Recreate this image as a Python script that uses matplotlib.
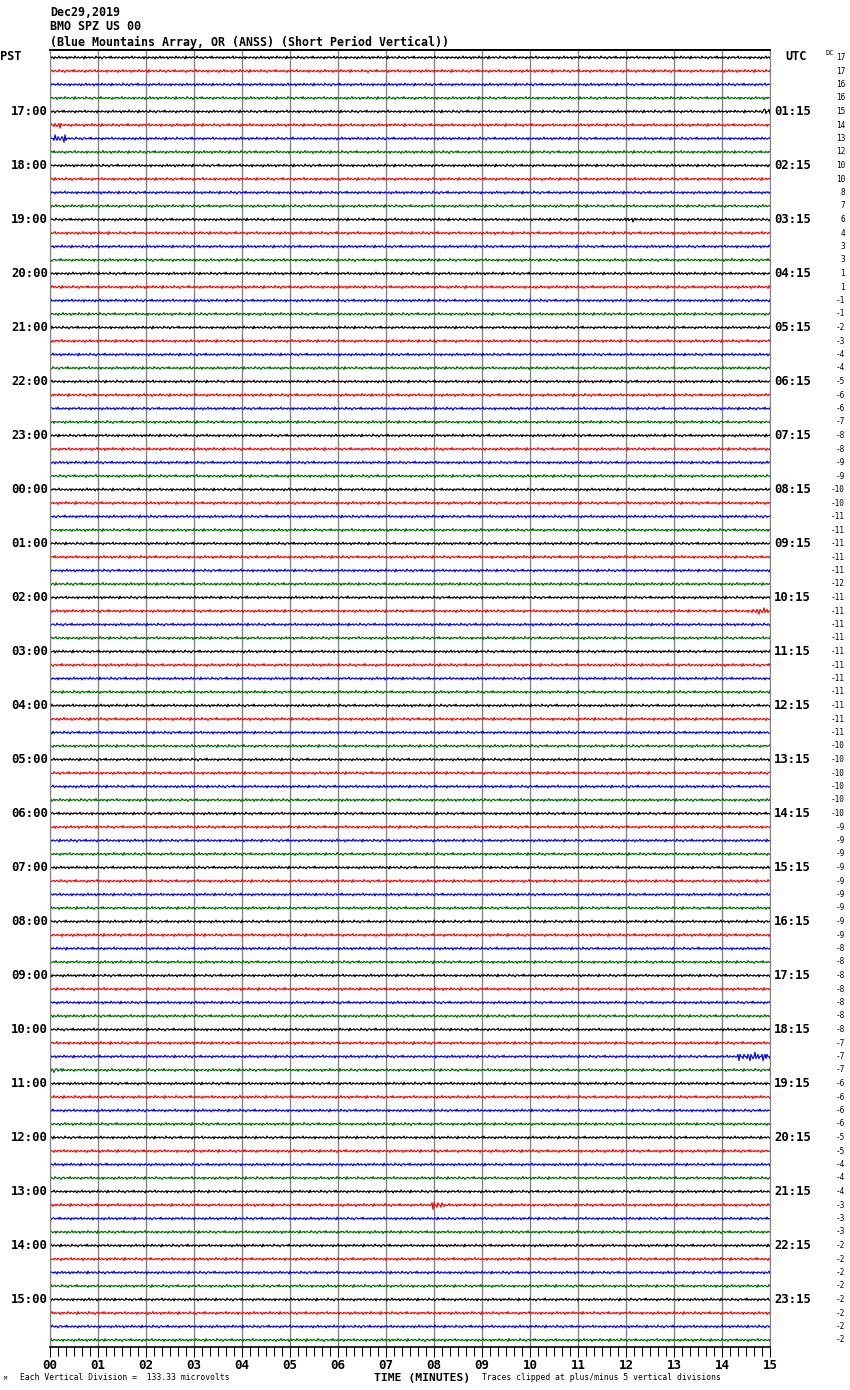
import numpy as np
import matplotlib
matplotlib.use('Agg')
import matplotlib.pyplot as plt

W, H = 850, 1390

# one trace row per 15 minutes, 16:00 PST to 15:45 PST
n_rows = 96
trace_colors = ['#000000', '#ff0000', '#0000ff', '#006e00']

pst_labels = ['17:00', '18:00', '19:00', '20:00', '21:00', '22:00', '23:00',
              '00:00', '01:00', '02:00', '03:00', '04:00', '05:00', '06:00',
              '07:00', '08:00', '09:00', '10:00', '11:00', '12:00', '13:00',
              '14:00', '15:00']
utc_labels = ['01:15', '02:15', '03:15', '04:15', '05:15', '06:15', '07:15',
              '08:15', '09:15', '10:15', '11:15', '12:15', '13:15', '14:15',
              '15:15', '16:15', '17:15', '18:15', '19:15', '20:15', '21:15',
              '22:15', '23:15']

dc_offsets = [17, 17, 16, 16, 15, 14, 13, 12, 10, 10, 8, 7, 6, 4, 3, 3,
              1, 1, -1, -1, -2, -3, -4, -4, -5, -6, -6, -7, -8, -8, -9, -9,
              -10, -10, -11, -11, -11, -11, -11, -12, -11, -11, -11, -11,
              -11, -11, -11, -11, -11, -11, -11, -10, -10, -10, -10, -10,
              -10, -9, -9, -9, -9, -9, -9, -9, -9, -9, -8, -8, -8, -8, -8, -8,
              -8, -7, -7, -7, -6, -6, -6, -6, -5, -5, -4, -4, -4, -3, -3, -3,
              -2, -2, -2, -2, -2, -2, -2, -2]

minute_labels = ['00', '01', '02', '03', '04', '05', '06', '07', '08', '09',
                 '10', '11', '12', '13', '14', '15']

# background wiggle (pixel units)
wiggle = [0, 1, -1, 0, 2, -1, 0, 1, 0, -2, 1, 0, -1, 1, 0, 0, -1, 2, 0, -1,
          1, -1, 0, 0, 1, -2, 0, 1, -1, 0, 1, 0, -1, 0, 2, -2, 1, 0, 0, -1,
          1, 0, -1, 0, 1, 1, -2, 0, 0, 1, -1, 0, 2, 0, -1, -1, 1, 0, 0, -1,
          1, -2, 1, 0, 0, 1, -1, 0, 1, -1, 0, 0, 2, -1, 0, 1, -1, 0, -1, 1,
          0, 0, -2, 1, 1, -1, 0, 0, 1, -1, 0, 1, 0, -1, 2, -1, 0, 0, 1, -1, 0]

# (row, start minute, end minute, gain) for the visible bursts
events = [(4, 14.85, 15.0, 3.0), (5, 0.0, 0.25, 2.2), (6, 0.05, 0.35, 2.6),
          (12, 12.0, 12.2, 1.8), (41, 14.6, 15.0, 2.2), (74, 14.3, 15.0, 3.0),
          (75, 0.0, 0.25, 1.8), (85, 7.95, 8.2, 3.2)]

row_px = 13.5
top_px = 57.5

fig = plt.figure(figsize=(W / 100, H / 100), dpi=100)
ax_l, ax_r, ax_t, ax_b = 50, 770, 50, 1347
ax = fig.add_axes([ax_l / W, 1 - ax_b / H, (ax_r - ax_l) / W, (ax_b - ax_t) / H])

t = np.linspace(0, 15, 721)
wig = np.array(wiggle, dtype=float)
k = np.arange(len(t))
for i in range(n_rows):
    amp = 0.7 * wig[(k + 37 * i) % len(wig)]
    for row, t0, t1, g in events:
        if row == i:
            amp = np.where((t >= t0) & (t <= t1), amp * g, amp)
    y = i + amp / row_px
    ax.plot(t, y, color=trace_colors[i % 4], lw=0.85)

for m in range(16):
    ax.axvline(m, color='#808080', lw=0.95, zorder=0)

ax.set_xlim(0, 15)
ax.set_ylim((ax_b - top_px) / row_px, (ax_t - top_px) / row_px)
ax.set_yticks([])
ax.set_xticks(range(16))
ax.set_xticklabels(minute_labels, fontfamily='DejaVu Sans Mono',
                   fontweight='bold', fontsize=9)
ax.set_xticks(np.arange(0, 15.01, 1 / 6), minor=True)
ax.tick_params(axis='x', which='major', direction='out', length=7.5,
               width=0.8, pad=1.0, color='black')
ax.tick_params(axis='x', which='minor', direction='out', length=6.5,
               width=0.8, color='black')
ax.spines['top'].set_linewidth(1.4)
ax.spines['bottom'].set_linewidth(1.2)
ax.spines['left'].set_color('#808080')
ax.spines['right'].set_color('#808080')


def ftext(x, y, s, **kw):
    fig.text(x / W, 1 - y / H, s, **kw)


mono = dict(fontfamily='DejaVu Sans Mono')
ftext(50, 12, 'Dec29,2019', fontsize=8.4, fontweight='bold', va='center', **mono)
ftext(50, 27, 'BMO SPZ US 00', fontsize=8.4, fontweight='bold', va='center', **mono)
ftext(50, 42, '(Blue Mountains Array, OR (ANSS) (Short Period Vertical))',
      fontsize=8.4, fontweight='bold', va='center', **mono)

ftext(0, 57, 'PST', fontsize=8.6, fontweight='bold', va='center', **mono)
ftext(785, 57, 'UTC', fontsize=8.6, fontweight='bold', va='center', **mono)

for j, lab in enumerate(pst_labels):
    yy = top_px + row_px * (4 * (j + 1))
    ftext(48, yy, lab, fontsize=8.8, fontweight='bold', va='center', ha='right', **mono)
for j, lab in enumerate(utc_labels):
    yy = top_px + row_px * (4 * (j + 1))
    ftext(774, yy, lab, fontsize=8.8, fontweight='bold', va='center', ha='left', **mono)

for i, dc in enumerate(dc_offsets):
    yy = top_px + row_px * i
    ftext(845, yy, str(dc), fontsize=5.6, va='center', ha='right', **mono)
ftext(825, 53, 'DC', fontsize=5, va='center', ha='left', **mono)

ftext(4, 1379, 'M', fontsize=4, va='center', **mono)
ftext(20, 1377, 'Each Vertical Division =  133.33 microvolts', fontsize=5.8,
      va='center', ha='left', **mono)
ftext(422, 1378, 'TIME (MINUTES)', fontsize=8.2, fontweight='bold',
      va='center', ha='center', **mono)
ftext(482, 1377, 'Traces clipped at plus/minus 5 vertical divisions', fontsize=5.8,
      va='center', ha='left', **mono)

fig.savefig('out.png', dpi=100)
